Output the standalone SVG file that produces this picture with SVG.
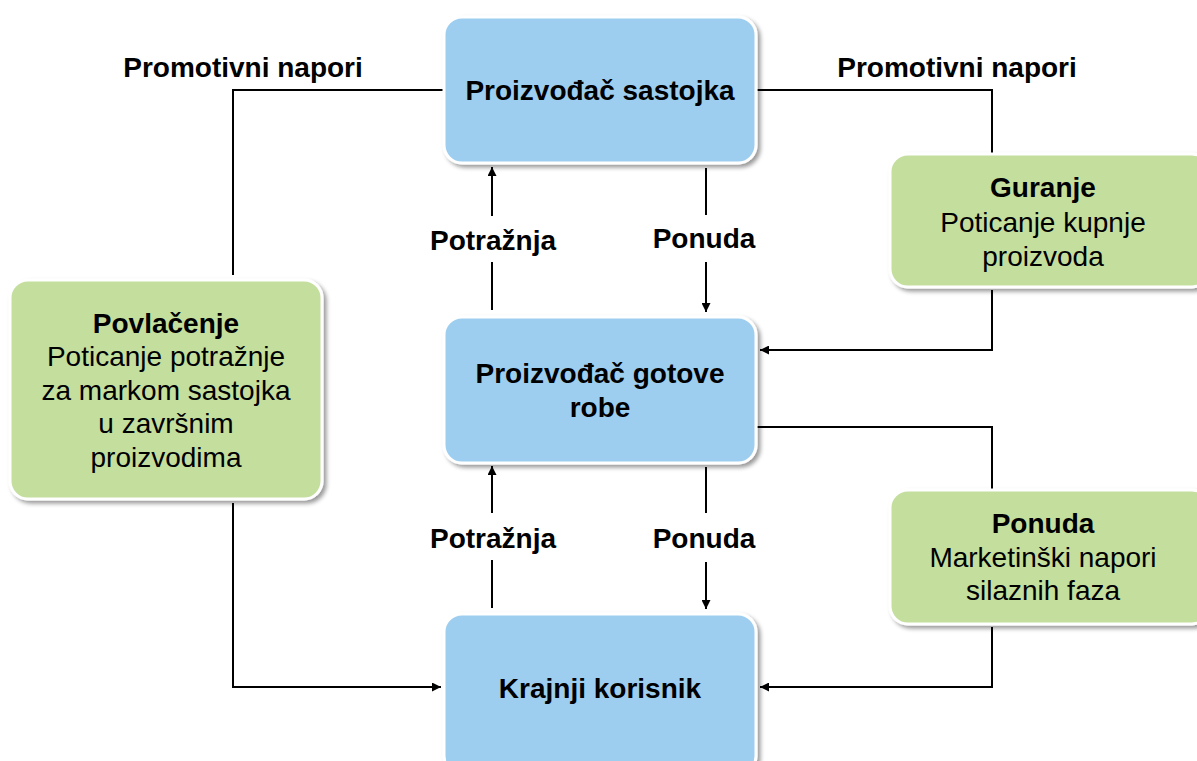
<svg xmlns="http://www.w3.org/2000/svg" width="1197" height="761" viewBox="0 0 1197 761">
<style>
.blue{fill:#9DCEEF;stroke:#fff;stroke-width:3;filter:url(#sh)}
.green{fill:#C4DE9E;stroke:#fff;stroke-width:3;filter:url(#sh)}
text{font-family:"Liberation Sans",Arial,sans-serif;font-size:28px;fill:#000;text-anchor:middle}
.b{font-weight:bold}
.ln{fill:none;stroke:#000;stroke-width:2}
</style>
<defs>
<filter id="sh" x="-10%" y="-10%" width="130%" height="130%">
<feDropShadow dx="3" dy="3" stdDeviation="2" flood-color="#000" flood-opacity="0.4"/>
</filter>
<marker id="ar" viewBox="0 0 10 10" refX="10" refY="5" markerWidth="10" markerHeight="9" orient="auto" markerUnits="userSpaceOnUse">
<path d="M0,0L10,5L0,10z" fill="#000"/>
</marker>
</defs>
<rect width="1197" height="761" fill="#fff"/>
<g id="connectors">
<path class="ln" d="M444,90H233V275"/>
<path class="ln" d="M233,503V687H441" marker-end="url(#ar)"/>
<path class="ln" d="M756,90H992V154"/>
<path class="ln" d="M992,290V350H760" marker-end="url(#ar)"/>
<path class="ln" d="M756,427H992V490"/>
<path class="ln" d="M992,627V687H760" marker-end="url(#ar)"/>
<path class="ln" d="M492,216V167" marker-end="url(#ar)"/>
<path class="ln" d="M492,262V310"/>
<path class="ln" d="M706,168V215"/>
<path class="ln" d="M706,262V312" marker-end="url(#ar)"/>
<path class="ln" d="M492,513V466" marker-end="url(#ar)"/>
<path class="ln" d="M492,560V608"/>
<path class="ln" d="M706,467V513"/>
<path class="ln" d="M706,562V609" marker-end="url(#ar)"/>
<text class="b" x="243" y="77">Promotivni napori</text>
<text class="b" x="957" y="77">Promotivni napori</text>
<text class="b" x="493" y="250">Potražnja</text>
<text class="b" x="704" y="248">Ponuda</text>
<text class="b" x="493" y="548">Potražnja</text>
<text class="b" x="704" y="548">Ponuda</text>
</g>
<g id="n1">
<rect class="blue" x="444" y="17" width="312" height="146" rx="18"/>
<text class="b" x="600" y="100">Proizvođač sastojka</text>
</g>
<g id="n2">
<rect class="blue" x="444" y="317" width="312" height="146" rx="18"/>
<text class="b" x="600" y="383">Proizvođač gotove</text>
<text class="b" x="600" y="417">robe</text>
</g>
<g id="n3">
<rect class="blue" x="444" y="614" width="312" height="160" rx="18"/>
<text class="b" x="600" y="698">Krajnji korisnik</text>
</g>
<g id="n4">
<rect class="green" x="10" y="280" width="312" height="219" rx="18"/>
<text class="b" x="166" y="333">Povlačenje</text>
<text x="166" y="366">Poticanje potražnje</text>
<text x="166" y="400">za markom sastojka</text>
<text x="166" y="433">u završnim</text>
<text x="166" y="467">proizvodima</text>
</g>
<g id="n5">
<rect class="green" x="890" y="154" width="320" height="133" rx="18"/>
<text class="b" x="1043" y="197">Guranje</text>
<text x="1043" y="232">Poticanje kupnje</text>
<text x="1043" y="266">proizvoda</text>
</g>
<g id="n6">
<rect class="green" x="890" y="490" width="320" height="134" rx="18"/>
<text class="b" x="1043" y="533">Ponuda</text>
<text x="1043" y="567">Marketinški napori</text>
<text x="1043" y="600">silaznih faza</text>
</g>
</svg>
